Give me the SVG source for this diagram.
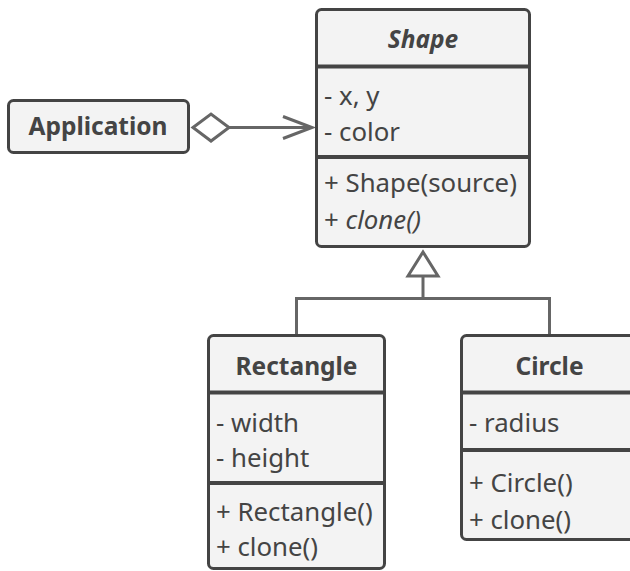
<svg xmlns="http://www.w3.org/2000/svg" width="630" height="571" viewBox="0 0 630 571">
<style>
.box{fill:#f3f3f3;stroke:#444;stroke-width:3}
.sep{stroke:#444;stroke-width:4}
.t{font-family:"Noto Sans","Open Sans","DejaVu Sans",sans-serif;fill:#444;font-size:25.8px}
.h{font-family:"Noto Sans","Open Sans","DejaVu Sans",sans-serif;fill:#444;font-size:24.5px;font-weight:bold;text-anchor:middle}
.c{fill:none;stroke:#666;stroke-width:3}
</style>
<rect width="630" height="571" fill="#fff"/>
<g id="connectors">
<polygon class="c" points="193,127.5 211,114 229,127.5 211,141" fill="#fff"/>
<line class="c" x1="229" y1="127.5" x2="312" y2="127.5"/>
<polyline class="c" points="283,116.5 312,127.5 283,138.5"/>
<polygon class="c" points="423,252 408,276 438,276"/>
<line class="c" x1="423" y1="276" x2="423" y2="298.5"/>
<polyline class="c" points="296.5,335 296.5,298.5 549.5,298.5 549.5,335"/>
</g>
<g id="application">
<rect class="box" x="8.5" y="100.5" width="180" height="52" rx="5"/>
<text class="h" x="98" y="135">Application</text>
</g>
<g id="shape">
<rect class="box" x="316.5" y="9.5" width="213" height="237" rx="5"/>
<line class="sep" x1="316" y1="66.5" x2="530" y2="66.5"/>
<line class="sep" x1="316" y1="157" x2="530" y2="157"/>
<text class="h" x="423" y="48" font-style="italic">Shape</text>
<text class="t" x="324" y="105">- x, y</text>
<text class="t" x="324" y="141">- color</text>
<text class="t" x="324" y="192">+ Shape(source)</text>
<text class="t" x="324" y="229">+ <tspan font-style="italic">clone()</tspan></text>
</g>
<g id="rectangle">
<rect class="box" x="208.5" y="335.5" width="176" height="233" rx="5"/>
<line class="sep" x1="208" y1="392.5" x2="385" y2="392.5"/>
<line class="sep" x1="208" y1="483" x2="385" y2="483"/>
<text class="h" x="296.5" y="375">Rectangle</text>
<text class="t" x="216" y="432">- width</text>
<text class="t" x="216" y="467">- height</text>
<text class="t" x="216" y="521">+ Rectangle()</text>
<text class="t" x="216" y="556">+ clone()</text>
</g>
<g id="circle">
<rect class="box" x="461.5" y="335.5" width="176" height="204" rx="5"/>
<line class="sep" x1="461" y1="392.5" x2="638" y2="392.5"/>
<line class="sep" x1="461" y1="450" x2="638" y2="450"/>
<text class="h" x="549.5" y="375">Circle</text>
<text class="t" x="469" y="432">- radius</text>
<text class="t" x="469" y="492">+ Circle()</text>
<text class="t" x="469" y="529">+ clone()</text>
</g>
</svg>
